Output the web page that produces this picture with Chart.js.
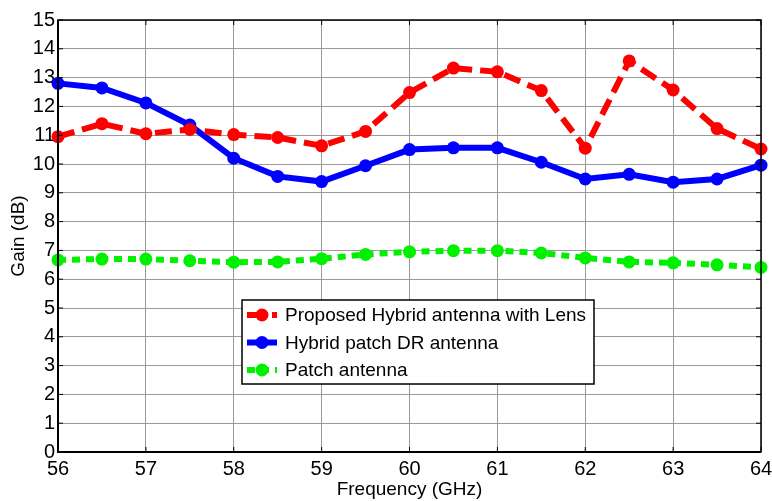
<!DOCTYPE html>
<html>
<head>
<meta charset="utf-8">
<script src="https://cdn.jsdelivr.net/npm/chart.js@4.4.0/dist/chart.umd.min.js"></script>
<style>
    html, body { margin: 0; padding: 0; background: #fff; }
    #wrap { width: 772px; height: 501px; }
</style>
</head>
<body>
<div id="wrap"><canvas id="gainCtx" width="772" height="501"></canvas></div>
<script>
// Frequency points (GHz)
const frequency = [56, 56.5, 57, 57.5, 58, 58.5, 59, 59.5, 60, 60.5, 61, 61.5, 62, 62.5, 63, 63.5, 64];

// Gain (dB) for each antenna
const lensGain = [10.95, 11.4, 11.05, 11.2, 11.02, 10.92, 10.63, 11.13, 12.48, 13.33, 13.2, 12.55, 10.55, 13.58, 12.57, 11.23, 10.52];
const hybridGain = [12.8, 12.64, 12.12, 11.35, 10.2, 9.57, 9.39, 9.94, 10.5, 10.56, 10.56, 10.06, 9.48, 9.64, 9.37, 9.48, 9.96];
const patchGain = [6.67, 6.7, 6.7, 6.64, 6.59, 6.6, 6.71, 6.86, 6.95, 6.99, 6.99, 6.91, 6.74, 6.6, 6.57, 6.5, 6.41];

const seriesLabels = ['Proposed Hybrid antenna with Lens', 'Hybrid patch DR antenna', 'Patch antenna'];

const FONT = "'Liberation Sans', Arial, Helvetica, sans-serif";

function toPoints(values) {
    return frequency.map((f, i) => ({ x: f, y: values[i] }));
}

function lineDataset(label, values, color, dash) {
    return {
        label: label,
        data: toPoints(values),
        borderColor: color,
        backgroundColor: color,
        borderWidth: 6,
        borderDash: dash,
        pointRadius: 6.5,
        pointHoverRadius: 6.5,
        pointBorderWidth: 0,
        tension: 0,
        clip: false
    };
}

// box, inward ticks and in-plot legend, MATLAB style
const boxPlugin = {
    id: 'boxPlugin',
    afterDraw(chart) {
        const ctx = chart.ctx;
        const a = chart.chartArea;
        const xs = chart.scales.x, ys = chart.scales.y;
        ctx.save();
        ctx.strokeStyle = '#000';
        ctx.lineWidth = 1.5;
        ctx.strokeRect(a.left, a.top, a.right - a.left, a.bottom - a.top);
        ctx.lineWidth = 2;
        ctx.beginPath();
        ctx.moveTo(a.left, a.top); ctx.lineTo(a.left, a.bottom); ctx.lineTo(a.right, a.bottom);
        ctx.stroke();

        ctx.lineWidth = 1;
        ctx.beginPath();
        xs.ticks.forEach(t => {
            const px = xs.getPixelForValue(t.value);
            ctx.moveTo(px, a.bottom); ctx.lineTo(px, a.bottom - 5);
            ctx.moveTo(px, a.top); ctx.lineTo(px, a.top + 5);
        });
        ys.ticks.forEach(t => {
            const py = ys.getPixelForValue(t.value);
            ctx.moveTo(a.left, py); ctx.lineTo(a.left + 5, py);
            ctx.moveTo(a.right, py); ctx.lineTo(a.right - 5, py);
        });
        ctx.stroke();

        // legend
        const lx = 242, ly = 300, lw = 352, lh = 84;
        ctx.fillStyle = '#fff';
        ctx.fillRect(lx, ly, lw, lh);
        ctx.lineWidth = 1.5;
        ctx.strokeStyle = '#000';
        ctx.strokeRect(lx, ly, lw, lh);
        chart.data.datasets.forEach((ds, i) => {
            const cy = ly + 15 + i * 27.5;
            ctx.strokeStyle = ds.borderColor;
            ctx.lineWidth = ds.borderWidth;
            ctx.setLineDash(ds.borderDash || []);
            ctx.beginPath();
            ctx.moveTo(lx + 5, cy); ctx.lineTo(lx + 35, cy);
            ctx.stroke();
            ctx.setLineDash([]);
            ctx.fillStyle = ds.borderColor;
            ctx.beginPath();
            ctx.arc(lx + 20, cy, ds.pointRadius, 0, Math.PI * 2);
            ctx.fill();
            ctx.fillStyle = '#000';
            ctx.font = '19px ' + FONT;
            ctx.textBaseline = 'middle';
            ctx.textAlign = 'left';
            ctx.fillText(ds.label, lx + 43, cy + 1);
        });
        ctx.restore();
    }
};

const gainCtx = document.getElementById('gainCtx');

new Chart(gainCtx, {
    type: 'line',
    data: {
        datasets: [
            lineDataset(seriesLabels[0], lensGain, '#ff0000', [17, 8]),
            lineDataset(seriesLabels[1], hybridGain, '#0000ff', []),
            lineDataset(seriesLabels[2], patchGain, '#00f000', [8, 6])
        ]
    },
    options: {
        responsive: false,
        animation: false,
        layout: { padding: { top: 20, right: 11, left: 0, bottom: 0 } },
        plugins: {
            legend: { display: false },
            tooltip: { enabled: false }
        },
        scales: {
            x: {
                type: 'linear',
                min: 56,
                max: 64,
                afterFit: s => { s.height = 49; s.paddingLeft = 0; s.paddingRight = 0; },
                grid: { color: '#9a9a9a', lineWidth: 1, drawTicks: false },
                border: { display: false },
                ticks: {
                    stepSize: 1,
                    padding: 5,
                    color: '#000',
                    font: { family: FONT, size: 20 },
                    maxRotation: 0
                },
                title: {
                    display: true,
                    text: 'Frequency (GHz)',
                    color: '#000',
                    font: { family: FONT, size: 19 },
                    padding: 0
                }
            },
            y: {
                min: 0,
                max: 15,
                afterFit: s => { s.width = 58; s.paddingTop = 0; s.paddingBottom = 0; },
                grid: { color: '#9a9a9a', lineWidth: 1, drawTicks: false },
                border: { display: false },
                ticks: {
                    stepSize: 1,
                    padding: 3,
                    color: '#000',
                    font: { family: FONT, size: 20 }
                },
                title: {
                    display: true,
                    text: 'Gain (dB)',
                    color: '#000',
                    font: { family: FONT, size: 19 },
                    padding: 7
                }
            }
        }
    },
    plugins: [boxPlugin]
});
</script>
</body>
</html>
